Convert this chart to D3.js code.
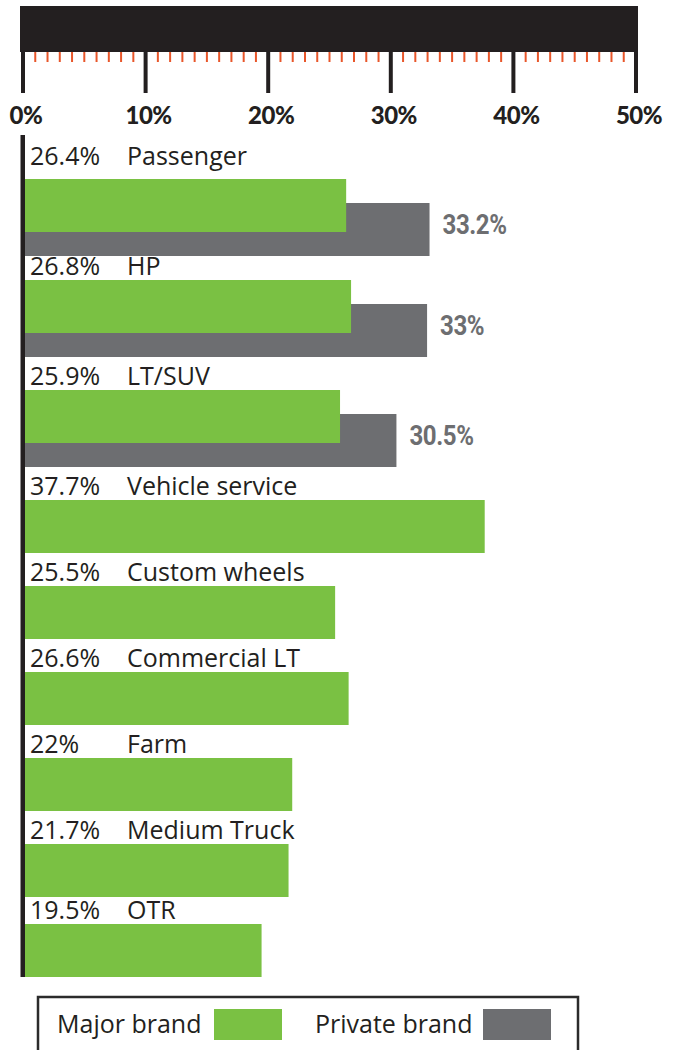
<!DOCTYPE html>
<html>
<head>
<meta charset="utf-8">
<script src="https://cdn.jsdelivr.net/npm/d3@7"></script>
<style>
  body { margin: 0; background: #fff; }
  svg { display: block; }
  .lbl { font-family: 'Open Sans', sans-serif; font-size: 25px; fill: #231f20; }
  .pct { font-family: Roboto, sans-serif; font-weight: bold; font-size: 28px; fill: #6d6e71; letter-spacing: -0.5px; }
  .x.major text { font-family: Lato, sans-serif; font-weight: 900; font-size: 24px; fill: #231f20; letter-spacing: -0.5px; }
</style>
</head>
<body>
<div id="chart"></div>
<script>
(function () {
  let categories = ['Passenger', 'HP', 'LT/SUV', 'Vehicle service', 'Custom wheels',
    'Commercial LT', 'Farm', 'Medium Truck', 'OTR'];
  let majorBrand = [26.4, 26.8, 25.9, 37.7, 25.5, 26.6, 22, 21.7, 19.5];
  let privateBrand = [33.2, 33, 30.5, null, null, null, null, null, null];
  let majorTicks = [0, 10, 20, 30, 40, 50];
  let seriesNames = ['Major brand', 'Private brand'];

  let green = '#7ac143';
  let grey = '#6d6e71';
  let ink = '#231f20';
  let orange = '#e8562a';

  let width = 681;
  let height = 1050;
  let barH = 53;
  let greyOffset = 24;
  let rowGap = 33;

  let data = categories.map((c, i) => ({
    label: c,
    major: majorBrand[i],
    priv: privateBrand[i]
  }));

  // stack the rows: rows with a private brand bar are taller
  let top = 170;
  data.forEach((d, i) => {
    d.ty = top - 5;
    d.y = i === 0 ? top + 9 : top;
    let block = d.priv != null ? barH + greyOffset : barH;
    top += block + (i === data.length - 2 ? rowGap - 6 : rowGap);
  });
  let lastBottom = data[data.length - 1].y + barH;

  let x = d3.scaleLinear().domain([0, 50]).range([22.5, 635.5]);

  let svg = d3
    .select('#chart')
    .append('svg')
    .attr('width', width)
    .attr('height', height);

  // black ruler band
  svg
    .append('rect')
    .attr('x', 20)
    .attr('y', 6)
    .attr('width', 618)
    .attr('height', 46)
    .attr('fill', ink);

  // minor ticks every 1%
  let minorAxis = d3
    .axisBottom(x)
    .tickValues(d3.range(1, 50).filter((v) => v % 10 !== 0))
    .tickSize(10)
    .tickSizeOuter(0)
    .tickFormat('');

  svg
    .append('g')
    .attr('class', 'x minor')
    .attr('transform', 'translate(0, 52)')
    .call(minorAxis)
    .call((g) => g.select('.domain').remove())
    .call((g) => g.selectAll('line').attr('stroke', orange).attr('stroke-width', 2));

  let majorAxis = d3
    .axisBottom(x)
    .tickValues(majorTicks)
    .tickSize(41)
    .tickSizeOuter(0)
    .tickPadding(14)
    .tickFormat((d) => d + '%');

  svg
    .append('g')
    .attr('class', 'x major')
    .attr('transform', 'translate(0, 52)')
    .call(majorAxis)
    .call((g) => g.select('.domain').remove())
    .call((g) => g.selectAll('line').attr('stroke', ink).attr('stroke-width', 4))
    .call((g) => g.selectAll('text').attr('dx', 3));

  // private brand bars (behind)
  svg
    .append('g')
    .selectAll('rect')
    .data(data.filter((d) => d.priv != null))
    .enter()
    .append('rect')
    .attr('x', x(0))
    .attr('y', (d) => d.y + greyOffset)
    .attr('width', (d) => x(d.priv) - x(0))
    .attr('height', barH)
    .attr('fill', grey);

  // condensed look for the private brand values
  svg
    .append('g')
    .selectAll('text')
    .data(data.filter((d) => d.priv != null))
    .enter()
    .append('text')
    .attr('class', 'pct')
    .attr('transform', (d) =>
      `translate(${x(d.priv) + 13}, ${d.y + greyOffset + barH / 2 + 4}) scale(0.86, 1)`)
    .text((d) => d.priv + '%');

  // major brand bars
  svg
    .append('g')
    .selectAll('rect')
    .data(data)
    .enter()
    .append('rect')
    .attr('x', x(0))
    .attr('y', (d) => d.y)
    .attr('width', (d) => x(d.major) - x(0))
    .attr('height', barH)
    .attr('fill', green);

  let labels = svg.append('g').selectAll('g').data(data).enter().append('g');

  labels
    .append('text')
    .attr('class', 'lbl')
    .attr('x', 30)
    .attr('y', (d) => d.ty)
    .text((d) => d.major + '%');

  labels
    .append('text')
    .attr('class', 'lbl')
    .attr('x', 127)
    .attr('y', (d) => d.ty)
    .text((d) => d.label);

  // left axis line
  svg
    .append('line')
    .attr('x1', 22.75)
    .attr('x2', 22.75)
    .attr('y1', 135)
    .attr('y2', lastBottom)
    .attr('stroke', ink)
    .attr('stroke-width', 4.5);

  // legend
  let legend = svg.append('g');
  legend
    .append('rect')
    .attr('x', 38)
    .attr('y', 997)
    .attr('width', 540)
    .attr('height', 70)
    .attr('fill', 'none')
    .attr('stroke', '#2b2b2b')
    .attr('stroke-width', 2.5);

  let items = [
    { name: seriesNames[0], color: green, tx: 57, sx: 214 },
    { name: seriesNames[1], color: grey, tx: 315, sx: 483 }
  ];

  let item = legend.selectAll('g').data(items).enter().append('g');
  item
    .append('text')
    .attr('class', 'lbl')
    .attr('x', (d) => d.tx)
    .attr('y', 1033)
    .text((d) => d.name);
  item
    .append('rect')
    .attr('x', (d) => d.sx)
    .attr('y', 1009)
    .attr('width', 68)
    .attr('height', 31)
    .attr('fill', (d) => d.color);
})();
</script>
</body>
</html>
